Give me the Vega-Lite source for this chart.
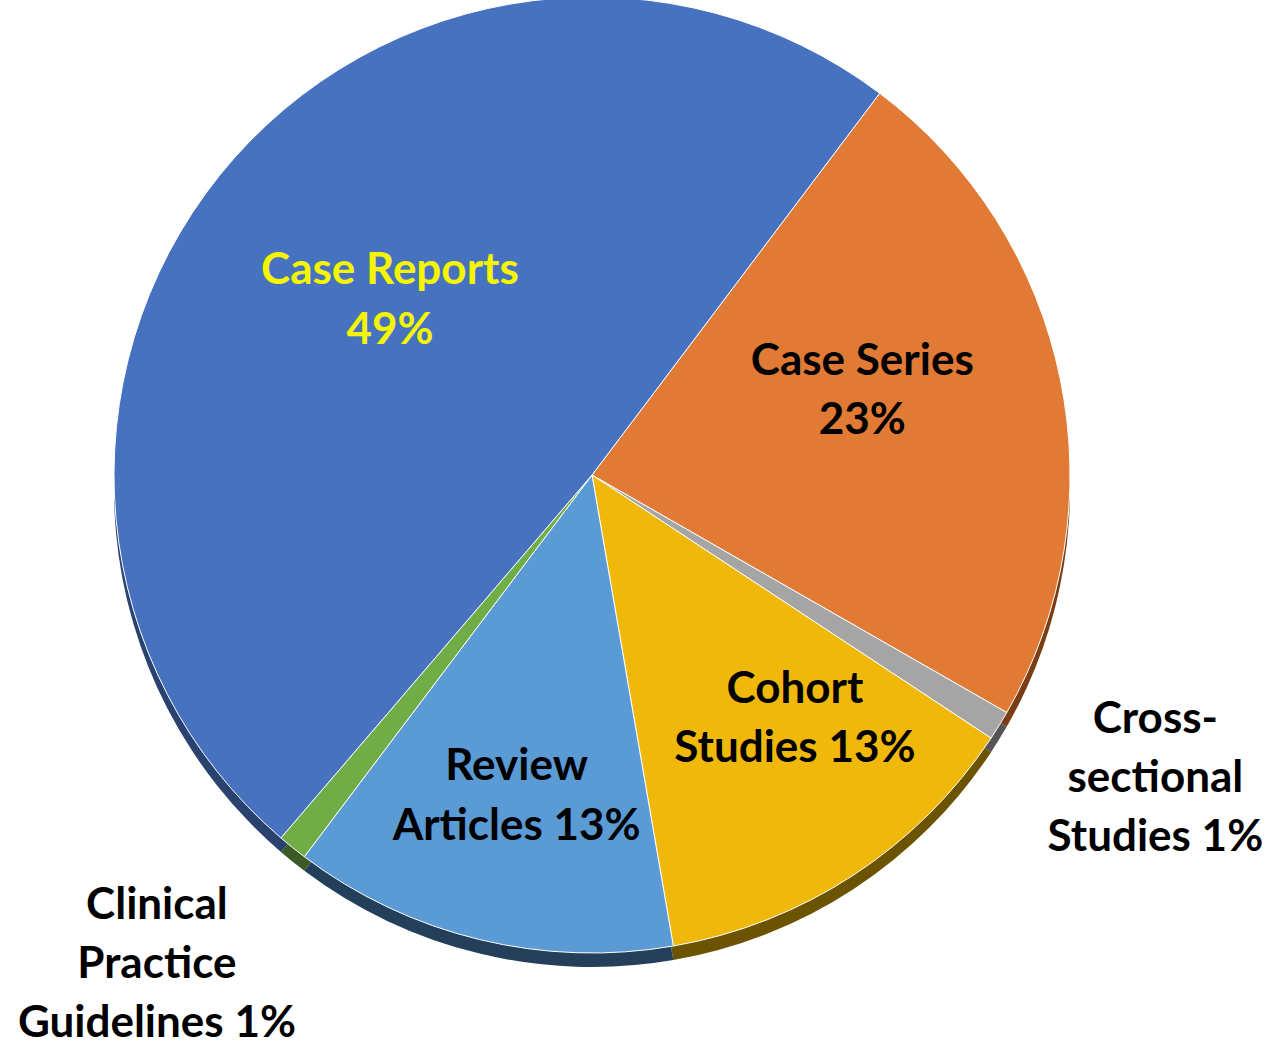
{
  "$schema": "https://vega.github.io/schema/vega-lite/v6.json",
  "autosize": {"type": "none"},
  "width": 1184,
  "height": 950,
  "padding": {"left": 0, "top": 0, "right": 87, "bottom": 95},
  "background": "white",
  "config": {"view": {"stroke": null}},
  "data": {
    "values": [
      {"category": "Case Series", "pct": 23, "rank": 1, "label": "Case Series\n23%"},
      {"category": "Cross-sectional Studies", "pct": 1, "rank": 2, "label": "Cross-\nsectional\nStudies 1%"},
      {"category": "Cohort Studies", "pct": 13, "rank": 3, "label": "Cohort\nStudies 13%"},
      {"category": "Review Articles", "pct": 13, "rank": 4, "label": "Review\nArticles 13%"},
      {"category": "Clinical Practice Guidelines", "pct": 1, "rank": 5, "label": "Clinical\nPractice\nGuidelines 1%"},
      {"category": "Case Reports", "pct": 49, "rank": 6, "label": "Case Reports\n49%"}
    ]
  },
  "encoding": {
    "theta": {"field": "pct", "type": "quantitative", "stack": true, "scale": {"range": [0.6458, 6.929]}},
    "order": {"field": "rank", "type": "quantitative"}
  },
  "layer": [
    {
      "mark": {"type": "arc", "yOffset": 14, "radius": 478},
      "encoding": {
        "color": {"field": "category", "type": "nominal", "legend": null,
          "scale": {"domain": ["Case Series", "Cross-sectional Studies", "Cohort Studies", "Review Articles", "Clinical Practice Guidelines", "Case Reports"],
                    "range": ["#7a3d14", "#555555", "#6b5300", "#243f5a", "#3b5a26", "#2a4270"]}}
      }
    },
    {
      "mark": {"type": "arc", "radius": 478, "stroke": "white", "strokeWidth": 1},
      "encoding": {
        "fill": {"field": "category", "type": "nominal", "legend": null,
          "scale": {"domain": ["Case Series", "Cross-sectional Studies", "Cohort Studies", "Review Articles", "Clinical Practice Guidelines", "Case Reports"],
                    "range": ["#e07a34", "#a5a5a5", "#f0b80a", "#5b9bd5", "#70ad47", "#4672c0"]}}
      }
    },
    {
      "mark": {"type": "text", "radius": 267, "dx": 6, "dy": -37, "font": "Lato", "fontWeight": "bold", "fontSize": 44, "lineBreak": "\n", "lineHeight": 60, "align": "center", "baseline": "middle", "fill": "#f5f500"},
      "encoding": {"text": {"condition": {"test": "datum.category === 'Case Reports'", "field": "label"}, "value": ""}}
    },
    {
      "mark": {"type": "text", "radius": 282, "dx": -6, "dy": -56, "font": "Lato", "fontWeight": "bold", "fontSize": 44, "lineBreak": "\n", "lineHeight": 59, "align": "center", "baseline": "middle", "fill": "black"},
      "encoding": {"text": {"condition": {"test": "datum.category === 'Case Series'", "field": "label"}, "value": ""}}
    },
    {
      "mark": {"type": "text", "radius": 314, "dx": 31, "dy": -48, "font": "Lato", "fontWeight": "bold", "fontSize": 44, "lineBreak": "\n", "lineHeight": 59, "align": "center", "baseline": "middle", "fill": "black"},
      "encoding": {"text": {"condition": {"test": "datum.category === 'Cohort Studies'", "field": "label"}, "value": ""}}
    },
    {
      "mark": {"type": "text", "radius": 329, "dx": 2, "dy": -28, "font": "Lato", "fontWeight": "bold", "fontSize": 44, "lineBreak": "\n", "lineHeight": 60, "align": "center", "baseline": "middle", "fill": "black"},
      "encoding": {"text": {"condition": {"test": "datum.category === 'Review Articles'", "field": "label"}, "value": ""}}
    },
    {
      "mark": {"type": "text", "radius": 638, "dx": 20, "dy": -89, "font": "Lato", "fontWeight": "bold", "fontSize": 44, "lineBreak": "\n", "lineHeight": 59, "align": "center", "baseline": "middle", "fill": "black"},
      "encoding": {"text": {"condition": {"test": "datum.category === 'Cross-sectional Studies'", "field": "label"}, "value": ""}}
    },
    {
      "mark": {"type": "text", "radius": 656, "dx": -24, "dy": -80, "font": "Lato", "fontWeight": "bold", "fontSize": 44, "lineBreak": "\n", "lineHeight": 59, "align": "center", "baseline": "middle", "fill": "black"},
      "encoding": {"text": {"condition": {"test": "datum.category === 'Clinical Practice Guidelines'", "field": "label"}, "value": ""}}
    }
  ],
  "resolve": {"scale": {"color": "independent", "fill": "independent"}}
}
